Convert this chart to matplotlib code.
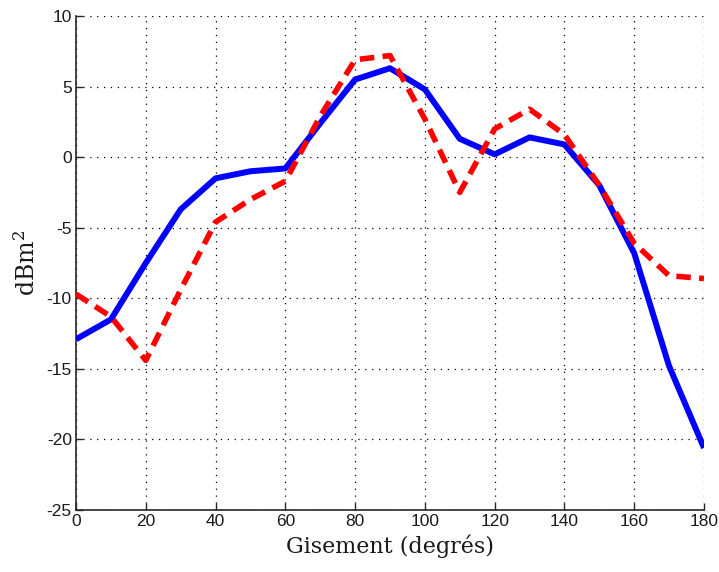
import matplotlib
matplotlib.use("Agg")
import matplotlib.pyplot as plt
import numpy as np

plt.rcParams['axes.unicode_minus'] = False
plt.rcParams['mathtext.fontset'] = 'dejavuserif'

angles = [0, 10, 20, 30, 40, 50, 60, 70, 80, 90, 100, 110, 120, 130, 140, 150, 160, 170, 180]
blue_vals = [-12.9, -11.5, -7.5, -3.7, -1.5, -1.0, -0.8, 2.4, 5.5, 6.3, 4.8, 1.3, 0.2, 1.4, 0.9, -2.0, -6.8, -14.8, -20.6]
red_vals = [-9.7, -11.3, -14.4, -9.4, -4.6, -3.0, -1.7, 2.9, 6.9, 7.2, 2.7, -2.5, 2.0, 3.4, 1.6, -2.0, -6.1, -8.4, -8.6]
xticks = [0, 20, 40, 60, 80, 100, 120, 140, 160, 180]
yticks = [-25, -20, -15, -10, -5, 0, 5, 10]

fig = plt.figure(figsize=(7.19, 5.72), dpi=100)
ax = fig.add_axes([0.1057, 0.1084, 0.8734, 0.8636])

ax.plot(angles, blue_vals, color='#0000ff', lw=4.3, solid_capstyle='butt', zorder=3)
ax.plot(angles, red_vals, color='#ff0000', lw=4.0, dashes=(2.6, 1.5), zorder=4)

ax.set_xlim(0, 180)
ax.set_ylim(-25, 10)
ax.set_xticks(xticks)
ax.set_yticks(yticks)
ax.grid(True, color='black', linestyle=(0, (1, 4.5)), linewidth=0.9)

for s in ['top', 'right']:
    ax.spines[s].set_visible(False)
for s in ['left', 'bottom']:
    ax.spines[s].set_color('#262626')
    ax.spines[s].set_linewidth(1.2)

ax.tick_params(direction='in', length=5, width=1, colors='#262626', labelsize=12.5, pad=3)
for lab in ax.get_xticklabels() + ax.get_yticklabels():
    lab.set_family(['Liberation Sans', 'DejaVu Sans'])
    lab.set_color('#1a1a1a')

ax.set_xlabel('Gisement (degrés)', fontsize=16, family=['DejaVu Serif'], color='#1a1a1a', labelpad=4)
ax.set_ylabel('dBm$^2$', fontsize=17, family=['DejaVu Serif'], color='#1a1a1a', labelpad=5)

fig.savefig('out.png', dpi=100)
